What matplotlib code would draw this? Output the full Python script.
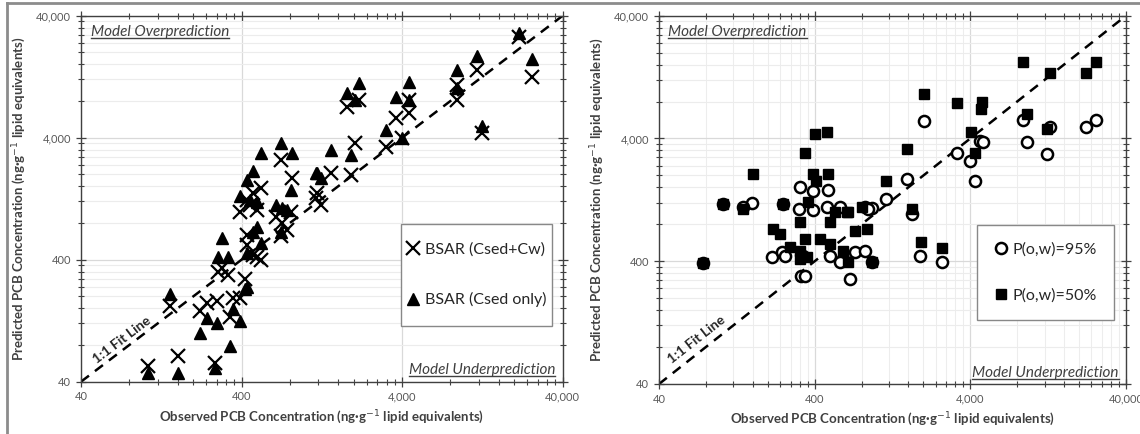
import matplotlib
matplotlib.use("Agg")
import matplotlib.pyplot as plt
from matplotlib.lines import Line2D
from matplotlib.patches import Rectangle
from matplotlib.ticker import FixedLocator, FixedFormatter, NullFormatter

plt.rcParams['font.family'] = ['Lato', 'DejaVu Sans']

# left panel: BSAR models (same observed values for both series)
obs_left = [104, 160, 143, 272, 219, 243, 280, 337, 352, 389, 418, 284, 327, 301, 430, 430,
            496, 532, 468, 708, 830, 532, 468, 430, 389, 449, 496, 660, 719, 762, 818, 708,
            1170, 1256, 1449, 1186, 1928, 1820, 2163, 2042, 3184, 3673, 4416, 4416, 4000,
            8790, 8790, 11690, 12560, 21330, 25650]
pred_csed_cw = [54, 65, 167, 57, 152, 177, 183, 136, 194, 194, 278, 317, 300, 342, 528, 637,
                421, 398, 437, 2626, 1870, 1549, 1408, 1234, 984, 1123, 1021, 895, 800, 700, 984, 625,
                1282, 1123, 2055, 1408, 1977, 7145, 8150, 3622, 3357, 5794, 6368, 8150, 3981,
                8150, 10810, 14350, 4373, 26740, 12590]
pred_csed_only = [47, 47, 209, 52, 100, 133, 121, 79, 158, 126, 230, 421, 421, 603, 454, 239,
                  741, 548, 675, 3622, 2999, 2999, 2133, 1799, 1331, 1234, 1189, 1123, 1061, 1021, 1490, 675,
                  2055, 1870, 3170, 2055, 2884, 9290, 11220, 8150, 4624, 8630, 11450, 8150, 3981,
                  10220, 14350, 18700, 4988, 28840, 17660]

# right panel: P(o,w) scenarios
obs_95 = [77, 213, 247, 258, 327, 347, 336, 501, 608, 674, 726, 841, 581, 1897, 2630, 933,
          322, 390, 487, 158, 103, 138, 250, 317, 390, 480, 581, 841, 933,
          2014, 8710, 12970, 22090, 25640, 3281, 3972, 4613, 4818, 9240, 12420, 4285, 1567,
          1148, 1687, 879]
pred_95 = [384, 430, 472, 438, 306, 306, 438, 438, 414, 284, 472, 481, 398, 438, 391, 398,
           1610, 1490, 1520, 1190, 1170, 1100, 1170, 1060, 1040, 1100, 1100, 1100, 1080,
           5570, 5680, 4980, 4980, 5680, 3050, 2620, 3820, 3750, 3750, 2990, 1800, 1870,
           1280, 966, 1060]
obs_50 = [77, 216, 239, 322, 347, 322, 322, 357, 501, 608, 655, 726, 867, 933, 1928, 2630,
          402, 480, 347, 161, 390, 487, 407, 103, 138, 250, 362, 540, 655, 805,
          8710, 12970, 22090, 25640, 2014, 3281, 4745, 4677, 9240, 4036, 12420, 4285, 1567,
          1148, 1687, 645, 277, 433, 501]
pred_50 = [384, 728, 662, 832, 603, 481, 414, 430, 832, 481, 398, 701, 728, 398, 570, 509,
           4360, 4530, 3050, 2050, 2050, 2050, 1800, 1170, 1060, 1170, 1210, 1000, 1000, 1100,
           16940, 13770, 13770, 16940, 9270, 7820, 7980, 6990, 6360, 4530, 4800, 3050, 3290,
           1800, 1060, 1000, 519, 603, 549]

major = [40, 400, 4000, 40000]
major_labels = ["40", "400", "4,000", "40,000"]
minor = [40 * 10 ** d * k for d in range(3) for k in range(2, 10)]
fit = [40, 40000]

W, H = 1140, 434
fig = plt.figure(figsize=(W / 100, H / 100), dpi=100)
ax1 = fig.add_axes([81 / W, 1 - 381.7 / H, 481.7 / W, 366 / H])
ax2 = fig.add_axes([659 / W, 1 - 384 / H, 467 / W, 368.3 / H])

for ax, vgrid_minor in ((ax1, False), (ax2, True)):
    ax.set_xscale("log")
    ax.set_yscale("log")
    ax.set_xlim(40, 40000)
    ax.set_ylim(40, 40000)
    for axis in (ax.xaxis, ax.yaxis):
        axis.set_major_locator(FixedLocator(major))
        axis.set_major_formatter(FixedFormatter(major_labels))
        axis.set_minor_locator(FixedLocator(minor))
        axis.set_minor_formatter(NullFormatter())
    ax.grid(True, which="major", color="#d9d9d9", lw=0.9)
    ax.grid(True, which="minor", axis="y", color="#ececec", lw=0.8)
    if vgrid_minor:
        ax.grid(True, which="minor", axis="x", color="#ededed", lw=0.8)
    ax.set_axisbelow(True)
    ax.tick_params(which="both", top=True, right=True, direction="inout",
                   labelsize=8, labelcolor="#595959", color="#404040")
    ax.tick_params(which="major", length=7, width=0.9)
    ax.tick_params(which="minor", length=4, width=0.8)
    for sp in ax.spines.values():
        sp.set_color("#404040")
        sp.set_linewidth(1.0)
    ax.plot(fit, fit, color="black", ls=(0, (4, 3)), lw=1.8, zorder=2)
    ax.set_xlabel("Observed PCB Concentration (ng·g$^{-1}$ lipid equivalents)",
                  fontsize=9.5, fontweight="bold", color="#404040", labelpad=4)
    ax.set_ylabel("Predicted PCB Concentration (ng·g$^{-1}$ lipid equivalents)",
                  fontsize=9.5, fontweight="bold", color="#404040", labelpad=6)

ax1.plot(obs_left, pred_csed_cw, ls="none", marker="x", ms=9.5, mew=1.6, color="black",
         label="BSAR (Csed+Cw)", zorder=3)
ax1.plot(obs_left, pred_csed_only, ls="none", marker="^", ms=8.5, color="black",
         label="BSAR (Csed only)", zorder=3)
ax2.plot(obs_95, pred_95, ls="none", marker="o", ms=8, mew=1.8, mfc="white", mec="black",
         label="P(o,w)=95%", zorder=3)
ax2.plot(obs_50, pred_50, ls="none", marker="s", ms=7.5, color="black",
         label="P(o,w)=50%", zorder=3)

# legend frames drawn separately so the padding can match the reference
boxes = [(ax1, (401, 224, 552, 326), 2.2), (ax2, (977, 225, 1114, 320), 1.95)]
for ax, (x0, y0, x1, y1), spacing in boxes:
    ax.add_patch(Rectangle((x0 / W, 1 - y1 / H), (x1 - x0) / W, (y1 - y0) / H,
                           transform=fig.transFigure, facecolor="white", clip_on=False,
                           edgecolor="#888888", lw=1.0, zorder=4))
    leg = ax.legend(frameon=False, fontsize=11.5, handlelength=0.8, handletextpad=0.3,
                    labelspacing=spacing, borderpad=0, borderaxespad=0, loc="center",
                    bbox_to_anchor=((x0 + x1) / 2 / W, 1 - (y0 + y1) / 2 / H),
                    bbox_transform=fig.transFigure)
    leg.set_zorder(5)
    for t in leg.get_texts():
        t.set_color("#262626")

fit_labels = [(ax1, 72, 88, 37.2), (ax2, 70, 92, 38.1)]
for ax, fx, fy, ang in fit_labels:
    ax.text(fx, fy, "1:1 Fit Line", fontsize=10, fontweight="bold", color="#262626",
            rotation=ang, ha="center", va="center", rotation_mode="anchor")

notes = []
for ax in (ax1, ax2):
    notes.append(ax.text(0.02, 0.975, "Model Overprediction", transform=ax.transAxes,
                         fontsize=11, style="italic", color="#404040", ha="left", va="top"))
    notes.append(ax.text(0.985, 0.012, "Model Underprediction", transform=ax.transAxes,
                         fontsize=11, style="italic", color="#404040", ha="right", va="bottom"))

fig.canvas.draw()
r = fig.canvas.get_renderer()
for t in notes:
    bb = t.get_window_extent(r)
    y = (bb.y0 + 1) / H
    fig.add_artist(Line2D([bb.x0 / W, bb.x1 / W], [y, y], transform=fig.transFigure,
                          color="#404040", lw=1.0))

# chart area frame (top and left edges)
fig.add_artist(Line2D([7 / W, 1], [1 - 3 / H, 1 - 3 / H], transform=fig.transFigure,
                      color="#8c8c8c", lw=2))
fig.add_artist(Line2D([7 / W, 7 / W], [0, 1 - 3 / H], transform=fig.transFigure,
                      color="#8c8c8c", lw=2))

fig.savefig("out.png", dpi=100)
